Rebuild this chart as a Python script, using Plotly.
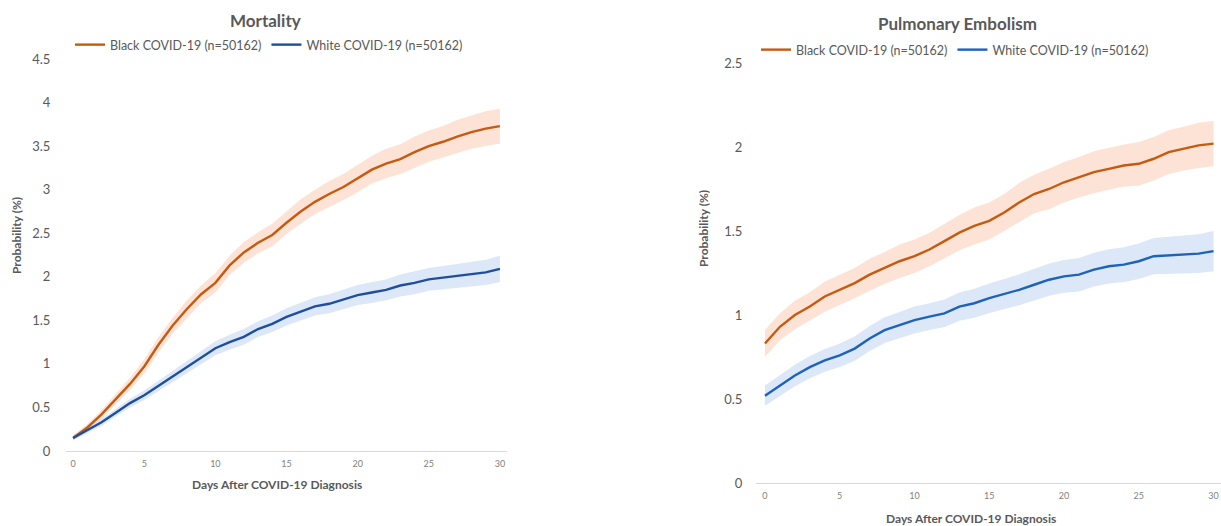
import plotly.graph_objects as go

days = list(range(31))

# Mortality (%)
mort_black = [0.15,0.27,0.42,0.60,0.77,0.97,1.22,1.44,1.63,1.80,1.93,2.13,2.28,2.39,2.48,2.62,2.75,2.86,2.95,3.03,3.13,3.23,3.30,3.35,3.43,3.50,3.55,3.61,3.66,3.70,3.73]
mort_black_lo = [0.12,0.23,0.37,0.54,0.70,0.89,1.13,1.35,1.53,1.70,1.82,2.02,2.16,2.27,2.35,2.49,2.61,2.72,2.80,2.88,2.97,3.07,3.13,3.18,3.25,3.32,3.37,3.42,3.47,3.50,3.53]
mort_black_hi = [0.18,0.31,0.47,0.66,0.84,1.05,1.31,1.53,1.73,1.90,2.04,2.24,2.40,2.51,2.61,2.75,2.89,3.00,3.10,3.18,3.29,3.39,3.47,3.52,3.61,3.68,3.73,3.80,3.85,3.90,3.93]
mort_white = [0.15,0.24,0.33,0.44,0.55,0.64,0.75,0.86,0.96,1.07,1.18,1.25,1.31,1.40,1.46,1.54,1.60,1.66,1.69,1.74,1.79,1.82,1.85,1.90,1.93,1.97,1.99,2.01,2.03,2.05,2.09]
mort_white_lo = [0.12,0.205,0.29,0.395,0.50,0.585,0.69,0.795,0.89,0.995,1.10,1.165,1.22,1.31,1.365,1.44,1.50,1.555,1.58,1.63,1.675,1.70,1.73,1.775,1.80,1.84,1.855,1.87,1.89,1.905,1.94]
mort_white_hi = [0.18,0.275,0.37,0.485,0.60,0.695,0.81,0.925,1.03,1.145,1.26,1.335,1.40,1.49,1.555,1.64,1.70,1.765,1.80,1.85,1.905,1.94,1.97,2.025,2.06,2.10,2.125,2.15,2.17,2.195,2.24]

# Pulmonary embolism (%)
pe_black = [0.83,0.93,1.00,1.05,1.11,1.15,1.19,1.24,1.28,1.32,1.35,1.39,1.44,1.49,1.53,1.56,1.61,1.67,1.72,1.75,1.79,1.82,1.85,1.87,1.89,1.90,1.93,1.97,1.99,2.01,2.02]
pe_black_lo = [0.75,0.85,0.915,0.965,1.02,1.06,1.10,1.145,1.185,1.22,1.25,1.29,1.335,1.385,1.42,1.45,1.50,1.555,1.605,1.63,1.67,1.70,1.725,1.745,1.765,1.77,1.80,1.84,1.86,1.875,1.885]
pe_black_hi = [0.91,1.01,1.085,1.135,1.20,1.24,1.28,1.335,1.375,1.42,1.45,1.49,1.545,1.595,1.64,1.67,1.72,1.785,1.835,1.87,1.91,1.94,1.975,1.995,2.015,2.03,2.06,2.10,2.12,2.145,2.155]
pe_white = [0.52,0.58,0.64,0.69,0.73,0.76,0.80,0.86,0.91,0.94,0.97,0.99,1.01,1.05,1.07,1.10,1.125,1.15,1.18,1.21,1.23,1.24,1.27,1.29,1.30,1.32,1.35,1.355,1.36,1.365,1.38]
pe_white_lo = [0.46,0.518,0.576,0.624,0.662,0.69,0.728,0.786,0.834,0.862,0.89,0.91,0.928,0.966,0.984,1.012,1.035,1.058,1.086,1.114,1.132,1.14,1.17,1.188,1.196,1.214,1.242,1.245,1.248,1.25,1.26]
pe_white_hi = [0.58,0.642,0.704,0.756,0.798,0.83,0.872,0.934,0.986,1.018,1.05,1.07,1.092,1.134,1.156,1.188,1.215,1.242,1.274,1.306,1.328,1.34,1.37,1.392,1.404,1.426,1.458,1.465,1.472,1.48,1.50]

black_name = "Black COVID-19 (n=50162)"
white_name = "White COVID-19 (n=50162)"
x_ticks = [0, 5, 10, 15, 20, 25, 30]
mort_yticks = [0, 0.5, 1, 1.5, 2, 2.5, 3, 3.5, 4, 4.5]
pe_yticks = [0, 0.5, 1, 1.5, 2, 2.5]

ORANGE = "#C55A11"
ORANGE_FILL = "rgba(250,208,185,0.6)"
BLUE_L = "#1F4E9C"
BLUE_R = "#1D63B8"
BLUE_FILL = "rgba(196,215,241,0.6)"
FONT = "Lato"
GRAY = "#595959"

fig = go.Figure()

def add_band(lo, hi, fill, xa, ya, leg):
    fig.add_trace(go.Scatter(x=days, y=lo, mode="lines", line=dict(width=0, color=fill),
                             showlegend=False, hoverinfo="skip", xaxis=xa, yaxis=ya, legend=leg))
    fig.add_trace(go.Scatter(x=days, y=hi, mode="lines", line=dict(width=0, color=fill),
                             fill="tonexty", fillcolor=fill, showlegend=False,
                             hoverinfo="skip", xaxis=xa, yaxis=ya, legend=leg))

# Left: mortality
add_band(mort_black_lo, mort_black_hi, ORANGE_FILL, "x", "y", "legend")
add_band(mort_white_lo, mort_white_hi, BLUE_FILL, "x", "y", "legend")
fig.add_trace(go.Scatter(x=days, y=mort_black, mode="lines", name=black_name, legendrank=1,
                         line=dict(color=ORANGE, width=2.4), xaxis="x", yaxis="y", legend="legend"))
fig.add_trace(go.Scatter(x=days, y=mort_white, mode="lines", name=white_name, legendrank=2,
                         line=dict(color=BLUE_L, width=2.4), xaxis="x", yaxis="y", legend="legend"))

# Right: PE
add_band(pe_black_lo, pe_black_hi, ORANGE_FILL, "x2", "y2", "legend2")
add_band(pe_white_lo, pe_white_hi, BLUE_FILL, "x2", "y2", "legend2")
fig.add_trace(go.Scatter(x=days, y=pe_black, mode="lines", name=black_name, legendrank=1,
                         line=dict(color=ORANGE, width=2.4), xaxis="x2", yaxis="y2", legend="legend2"))
fig.add_trace(go.Scatter(x=days, y=pe_white, mode="lines", name=white_name, legendrank=2,
                         line=dict(color=BLUE_R, width=2.4), xaxis="x2", yaxis="y2", legend="legend2"))

W, H = 1221, 526
def px(v): return v / W
def py(v): return 1 - v / H

xcommon = dict(tickvals=x_ticks, showgrid=False, zeroline=False, showline=False,
               tickfont=dict(family=FONT, size=9, color="#7F7F7F"), ticks="outside",
               ticklen=4, tickcolor="rgba(0,0,0,0)", fixedrange=True)
ycommon = dict(showgrid=False, zeroline=True, zerolinecolor="#D9D9D9", zerolinewidth=1.2,
               showline=False, tickfont=dict(family=FONT, size=13, color=GRAY),
               ticks="outside", tickcolor="rgba(0,0,0,0)", fixedrange=True)

legfont = dict(family=FONT, size=12.5, color=GRAY)
fig.update_layout(
    width=W, height=H,
    margin=dict(l=0, r=0, t=0, b=0, autoexpand=False),
    paper_bgcolor="white", plot_bgcolor="white",
    font=dict(family=FONT, color=GRAY),
    xaxis=dict(domain=[px(66), px(507)], range=[-0.5, 30.5], anchor="y", **xcommon),
    yaxis=dict(domain=[py(451), py(59)], range=[0, 4.5], tickvals=mort_yticks, anchor="x",
               ticklen=12, **ycommon),
    xaxis2=dict(domain=[px(756), 1.0], range=[-0.6, 30.5], anchor="y2", **xcommon),
    yaxis2=dict(domain=[py(483), py(63)], range=[0, 2.5], tickvals=pe_yticks, anchor="x2",
                ticklen=10, **ycommon),
    legend=dict(orientation="h", x=px(70), y=py(45), xanchor="left", yanchor="middle",
                itemwidth=30, font=legfont, traceorder="normal",
                bgcolor="rgba(0,0,0,0)", tracegroupgap=0),
    legend2=dict(orientation="h", x=px(756), y=py(50), xanchor="left", yanchor="middle",
                 itemwidth=30, font=legfont, traceorder="normal",
                 bgcolor="rgba(0,0,0,0)", tracegroupgap=0),
    showlegend=True,
)

annots = [
    dict(text="<b>Mortality</b>", x=px(265), y=py(21), size=17),
    dict(text="<b>Pulmonary Embolism</b>", x=px(957), y=py(24), size=17),
    dict(text="<b>Days After COVID-19 Diagnosis</b>", x=px(277), y=py(484), size=12),
    dict(text="<b>Days After COVID-19 Diagnosis</b>", x=px(971), y=py(518), size=12),
]
for a in annots:
    fig.add_annotation(text=a["text"], x=a["x"], y=a["y"], xref="paper", yref="paper",
                       showarrow=False, xanchor="center", yanchor="middle",
                       font=dict(family=FONT, size=a["size"], color=GRAY))
for xx, yy in [(16, 236), (703, 229)]:
    fig.add_annotation(text="<b>Probability (%)</b>", x=px(xx), y=py(yy), xref="paper", yref="paper",
                       showarrow=False, xanchor="center", yanchor="middle", textangle=-90,
                       font=dict(family=FONT, size=12, color=GRAY))

fig.write_html("out.html", config={"displayModeBar": False},
               post_script="document.body.style.margin='0';document.body.style.overflow='hidden';")
